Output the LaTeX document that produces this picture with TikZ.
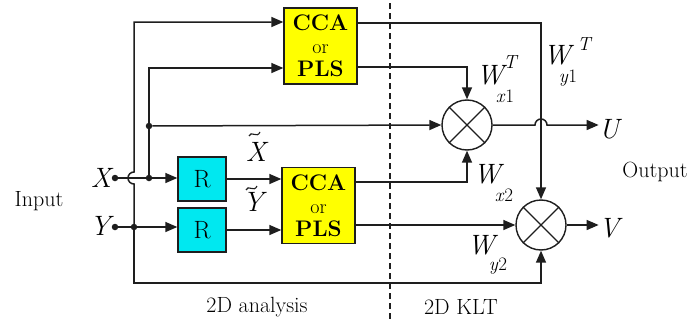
\documentclass[tikz,border=0pt]{standalone}
\usepackage{fontspec}
\usetikzlibrary{arrows.meta}
\definecolor{boxyellow}{RGB}{255,255,0}
\definecolor{boxcyan}{RGB}{0,232,240}
\definecolor{inkc}{RGB}{30,30,30}
\begin{document}
\begin{tikzpicture}[x=1pt,y=-1pt,
  wire/.style={line width=1.5pt, draw=inkc},
  arr/.style={wire, -{Triangle[length=12pt,width=10pt]}},
  ccabox/.style={draw=inkc, line width=1.4pt, fill=boxyellow, minimum width=73pt, minimum height=76pt, inner sep=0pt, align=center, font=\fontsize{22.5}{23}\selectfont\bfseries},
  rbox/.style={draw=inkc, line width=1.4pt, fill=boxcyan, minimum width=48pt, minimum height=44pt, inner sep=0pt, font=\fontsize{25}{26}\selectfont},
  mult/.style={draw=inkc, circle, line width=1.4pt, minimum size=50pt, inner sep=0pt},
  dot/.style={circle, fill=inkc, inner sep=0pt, minimum size=6.5pt},
  big/.style={font=\fontsize{28}{30}\selectfont\itshape, inner sep=0pt, anchor=base},
  small/.style={font=\fontsize{19}{20}\selectfont\itshape, inner sep=0pt, anchor=base, text height=9pt, text depth=3pt},
  txt/.style={font=\fontsize{22}{24}\selectfont, inner sep=0pt},
  tld/.style={line width=1.1pt, draw=inkc},
]
\useasboundingbox (0,0) rectangle (688,324);
\fill[white] (0,0) rectangle (688,324);

% boxes
\node[ccabox] (cca1) at (320.5,46) {CCA\\{\mdseries\fontsize{20}{23}\selectfont or}\\PLS};
\node[ccabox] (cca2) at (318.5,205.5) {CCA\\{\mdseries\fontsize{20}{23}\selectfont or}\\PLS};
\node[rbox] (r1) at (202,179) {R};
\node[rbox] (r2) at (202,230) {R};
\node[mult] (m1) at (467,125) {};
\node[mult] (m2) at (541,225) {};
\draw[wire, line width=1.2pt] (m1.north west) -- (m1.south east) (m1.north east) -- (m1.south west);
\draw[wire, line width=1.2pt] (m2.north west) -- (m2.south east) (m2.north east) -- (m2.south west);

% labels
\node[big] (xl) at (101,187) {X};
\node[big] (yl) at (100,235) {Y};
\node[big] (xt) at (256,161) {X};
\node[big] (yt) at (253,211) {Y};
\draw[tld] (249,136) .. controls (251,130) and (257,139) .. (260,132);
\draw[tld] (246,190) .. controls (248,184) and (254,193) .. (257,186);
\node[big] (ul) at (609,138) {U};
\node[big] (vl) at (609,237) {V};
\node[txt] (inp) at (39,201) {Input};
\node[txt] (outp) at (655,172) {Output};
\node[txt] (ana) at (257,307) {2D analysis};
\node[txt] (klt) at (461,307) {2D KLT};

\node[big] (wx1) at (490,84) {W};
\node[small] (wx1t) at (510,68) {T};
\node[small] (wx1s) at (505,102) {x\textup{1}};
\node[big] (wy1) at (557,64) {W};
\node[small] (wy1t) at (584,50) {T};
\node[small] (wy1s) at (568,82) {y\textup{1}};
\node[big] (wx2) at (487,183) {W};
\node[small] (wx2s) at (504,201) {x\textup{2}};
\node[big] (wy2) at (481,254) {W};
\node[small] (wy2s) at (498,270) {y\textup{2}};

% dots
\node[dot] (xin) at (115,178) {};
\node[dot] (yin) at (115,227) {};
\node[dot] (xj) at (149,178) {};
\node[dot] (yj) at (134,227) {};
\node[dot] (tj) at (149,126) {};

\coordinate (ytop) at (134,22);
\coordinate (xtop) at (149,68);
\coordinate (ybot) at (134,283);

% dashed separator
\draw[wire, line width=1.3pt, dash pattern=on 6pt off 4pt] (390,3) -- (390,322);

% input wires
\draw[wire] (xin) -- (xj);
\draw[arr] (xj) -- (r1.west |- xj);
\draw[wire] (yin) -- (yj);
\draw[arr] (yj) -- (r2.west |- yj);
\draw[arr] (yj.center) -- (134,184) arc[start angle=90, end angle=270, radius=6] -- (ytop) -- (cca1.west |- ytop);
\draw[arr] (xj.center) -- (xtop) -- (cca1.west |- xtop);
\draw[arr] (tj) -- (m1.west);
\draw[arr] (yj.center) -- (ybot) -- (m2.center |- ybot) -- (m2.south);

% R to CCA
\draw[arr] (r1.east) -- (cca2.west |- r1.east);
\draw[arr] (r2.east) -- (cca2.west |- r2.east);

% CCA outputs
\coordinate (o1) at (357,23);
\coordinate (o2) at (357,67);
\coordinate (o3) at (355,182);
\coordinate (o4) at (355,225);
\draw[arr] (o1) -- (m2.center |- o1) -- (m2.north);
\draw[arr] (o2) -- (m1.center |- o2) -- (m1.north);
\draw[arr] (o3) -- (m1.center |- o3) -- (m1.south);
\draw[arr] (o4) -- (m2.west);

% outputs
\draw[arr] (m1.east) -- (535,125) arc[start angle=180, end angle=360, radius=6] -- (ul.west |- m1.east);
\draw[arr] (m2.east) -- (vl.west |- m2.east);
\end{tikzpicture}
\end{document}
